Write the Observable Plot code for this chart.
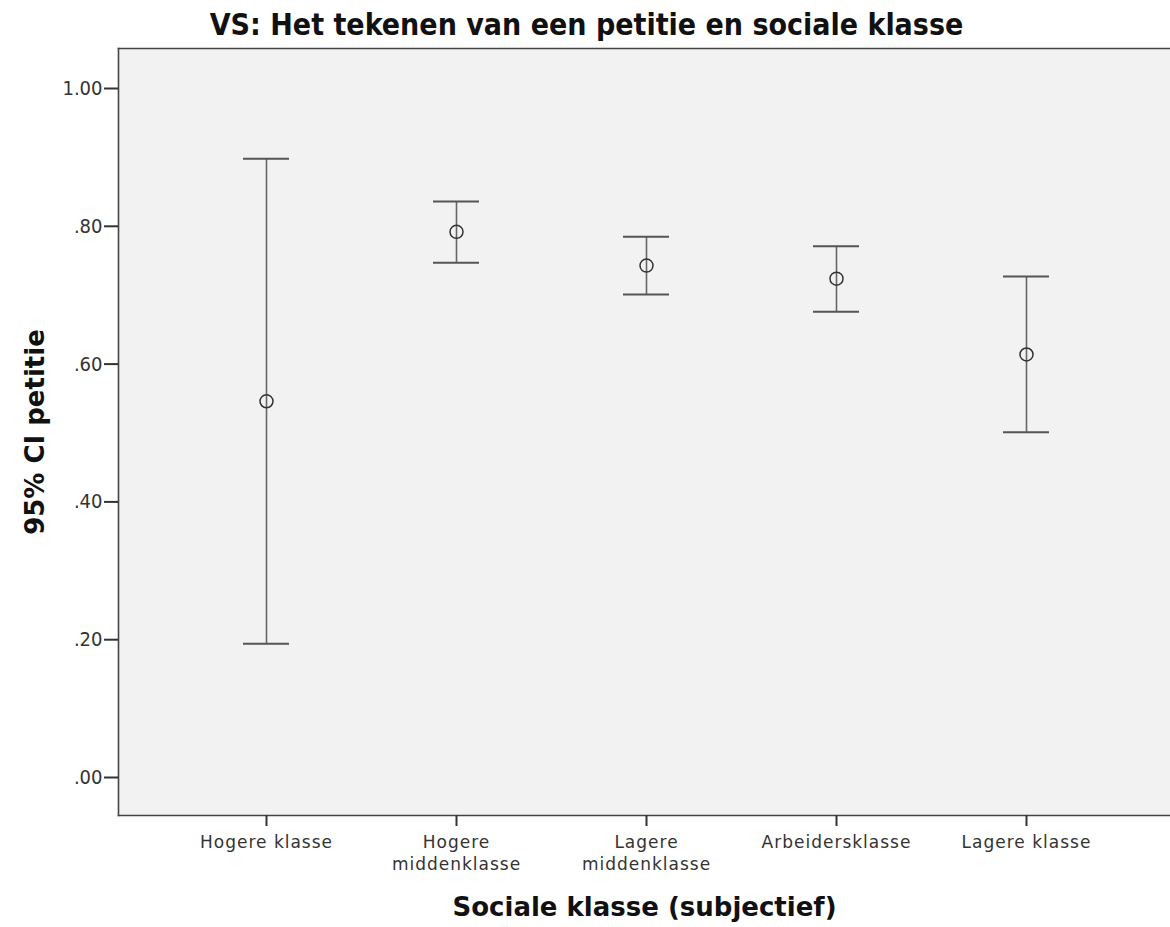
<!DOCTYPE html>
<html>
<head>
<meta charset="utf-8">
<script src="https://cdn.jsdelivr.net/npm/d3@7"></script>
<script src="https://cdn.jsdelivr.net/npm/@observablehq/plot@0.6"></script>
<style>
  html, body { margin: 0; padding: 0; background: #fff; }
  #chart svg { display: block; }
  #chart svg g[aria-label="x-axis tick label"] text { letter-spacing: 1px; }
</style>
</head>
<body>
<div id="chart"></div>
<script>
const categories = ["Hogere klasse", "Hogere middenklasse", "Lagere middenklasse", "Arbeidersklasse", "Lagere klasse"];
const tickLabels = ["Hogere klasse", "Hogere\nmiddenklasse", "Lagere\nmiddenklasse", "Arbeidersklasse", "Lagere klasse"];
const means = [0.546, 0.792, 0.743, 0.724, 0.614];
const lower = [0.194, 0.747, 0.701, 0.676, 0.501];
const upper = [0.898, 0.836, 0.785, 0.771, 0.727];
const yTicks = [0, 0.2, 0.4, 0.6, 0.8, 1.0];

const data = categories.map((c, i) => ({cat: c, mean: means[i], lo: lower[i], hi: upper[i]}));
const labelOf = Object.fromEntries(categories.map((c, i) => [c, tickLabels[i]]));

const W = 1170, H = 927;
const mL = 118, mT = 48, mB = 112, mR = 0;

const chart = Plot.plot({
  width: W,
  height: H,
  marginLeft: mL,
  marginTop: mT,
  marginBottom: mB,
  marginRight: mR,
  style: {background: "#fff", color: "#333", fontFamily: "DejaVu Sans, sans-serif"},
  x: {type: "band", domain: categories, range: [171, 1121], padding: 0, axis: null},
  y: {domain: [0, 1], range: [777, 88], axis: null},
  marks: [
    Plot.frame({fill: "#f2f2f2", stroke: null}),
    Plot.frame({anchor: "top", stroke: "#444", strokeWidth: 1.6}),
    Plot.frame({anchor: "left", stroke: "#444", strokeWidth: 1.6}),
    Plot.frame({anchor: "bottom", stroke: "#444", strokeWidth: 1.6}),
    Plot.axisY({
      ticks: yTicks,
      tickFormat: d => d3.format(".2f")(d).replace(/^0/, ""),
      tickSize: 14,
      tickPadding: 2,
      fontSize: 20,
      fontFamily: "DejaVu Sans Condensed, DejaVu Sans, sans-serif",
      stroke: "#333",
      strokeWidth: 2,
      label: null
    }),
    Plot.axisX({
      tickFormat: d => labelOf[d],
      tickSize: 11,
      tickPadding: 6,
      fontSize: 17,
      lineHeight: 1.3,
      stroke: "#333",
      strokeWidth: 2,
      label: null
    }),
    Plot.ruleX(data, {x: "cat", y1: "lo", y2: "hi", stroke: "#666", strokeWidth: 1.6}),
    Plot.tickY(data, {x: "cat", y: "hi", stroke: "#555", strokeWidth: 2, insetLeft: 72, insetRight: 72}),
    Plot.tickY(data, {x: "cat", y: "lo", stroke: "#555", strokeWidth: 2, insetLeft: 72, insetRight: 72}),
    Plot.dot(data, {x: "cat", y: "mean", r: 6.5, stroke: "#333", strokeWidth: 1.5, fill: "none"}),
    Plot.text(["VS: Het tekenen van een petitie en sociale klasse"], {
      frameAnchor: "top", lineAnchor: "middle", dy: -23, dx: -58, fontSize: 30, fontWeight: "bold",
      fontFamily: "DejaVu Sans Condensed, DejaVu Sans, sans-serif", fill: "#111"
    }),
    Plot.text(["95% CI petitie"], {
      frameAnchor: "left", textAnchor: "middle", lineAnchor: "middle", dx: -83, rotate: -90, fontSize: 26, fontWeight: "bold", fill: "#111"
    }),
    Plot.text(["Sociale klasse (subjectief)"], {
      frameAnchor: "bottom", lineAnchor: "middle", dy: 92, fontSize: 26, fontWeight: "bold", fill: "#111"
    })
  ]
});
document.getElementById("chart").appendChild(chart);
</script>
</body>
</html>
